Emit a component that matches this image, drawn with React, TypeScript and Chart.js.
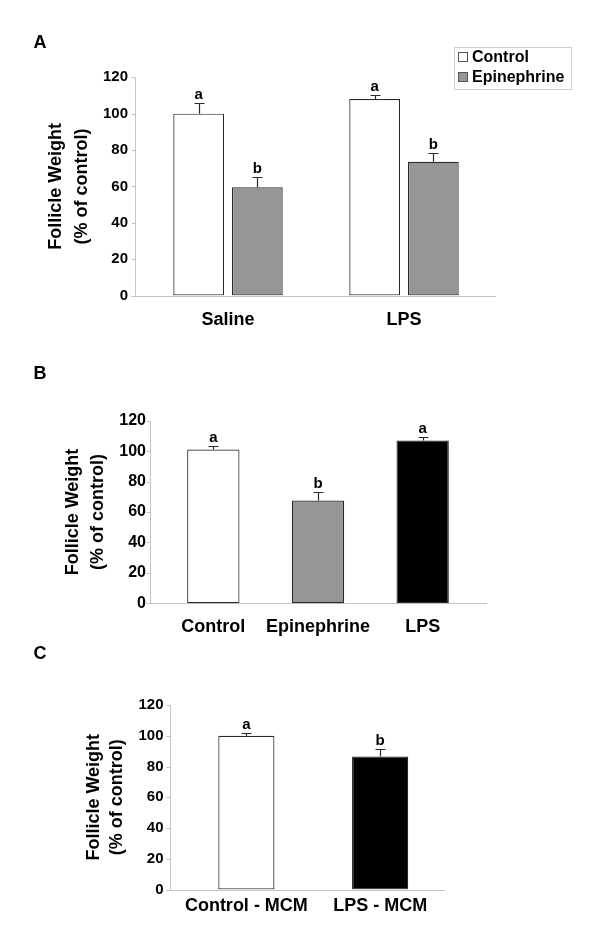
import React, { useEffect, useRef } from "react";
import { Chart, registerables } from "chart.js";

Chart.register(...registerables);

const FONT = "'Liberation Sans', Arial, Helvetica, sans-serif";

// ---------- Data ----------
const yAxisTitle = ["Follicle Weight", "(% of control)"];
const Y_MIN = 0;
const Y_MAX = 120;
const Y_STEP = 20;

// Panel A
const aCategories = ["Saline", "LPS"];
const aSeriesNames = ["Control", "Epinephrine"];
const aControl = [100, 108];
const aControlErr = [6, 2];
const aControlLetters = ["a", "a"];
const aEpinephrine = [59.5, 73.5];
const aEpinephrineErr = [5.5, 5];
const aEpinephrineLetters = ["b", "b"];

// Panel B
const bCategories = ["Control", "Epinephrine", "LPS"];
const bValues = [101, 67.5, 107];
const bErrors = [2.5, 5.5, 2.5];
const bLetters = ["a", "b", "a"];

// Panel C
const cCategories = ["Control - MCM", "LPS - MCM"];
const cValues = [100, 86.5];
const cErrors = [1.5, 5];
const cLetters = ["a", "b"];

// ---------- Colours ----------
const WHITE = "#ffffff";
const GRAY = "#969696";
const BLACK = "#000000";
const EDGE = "#2a2a2a";
const AXIS = "#c4c4c4";

type Panel = {
  key: string;
  top: number;
  height: number;
  letter: string;
  letterPos: [number, number];
  area: { left: number; right: number; top: number; bottom: number };
  axisX: number;
  axisRight: number;
  titleX: [number, number];
  tickFont: number;
  tickPad: number;
  catPad: number;
  categories: string[];
  datasets: any[];
  barPct: number;
  catPct: number;
  legend?: { box: [number, number, number, number]; items: { label: string; color: string; y: number }[]; markX: number; textX: number };
};

const decorPlugin = {
  id: "decor",
  beforeDatasetsDraw(chart: any, _args: any, o: any) {
    const ctx = chart.ctx;
    const ys = chart.scales.y;
    const yTop = ys.getPixelForValue(Y_MAX);
    const yBot = ys.getPixelForValue(Y_MIN);
    ctx.save();
    ctx.strokeStyle = AXIS;
    ctx.lineWidth = 1;
    const ax = Math.round(o.axisX) + 0.5;
    ctx.beginPath();
    ctx.moveTo(ax, yTop);
    ctx.lineTo(ax, yBot);
    ctx.stroke();
    ys.ticks.forEach((t: any) => {
      const p = Math.round(ys.getPixelForValue(t.value)) + 0.5;
      ctx.beginPath();
      ctx.moveTo(ax - 4, p);
      ctx.lineTo(ax, p);
      ctx.stroke();
    });
    const by = Math.round(yBot) + 0.5;
    ctx.beginPath();
    ctx.moveTo(ax - 4, by);
    ctx.lineTo(o.axisRight, by);
    ctx.stroke();
    ctx.restore();
  },
  afterDatasetsDraw(chart: any, _args: any, o: any) {
    const ctx = chart.ctx;
    const ys = chart.scales.y;
    const off = o.top;
    ctx.save();
    // error bars + letters
    chart.data.datasets.forEach((ds: any, di: number) => {
      const meta = chart.getDatasetMeta(di);
      meta.data.forEach((el: any, j: number) => {
        const v = ds.data[j];
        const e = ds.errors[j];
        const x = Math.round(el.x) + 0.5;
        const y1 = ys.getPixelForValue(v);
        const y2 = Math.round(ys.getPixelForValue(v + e)) + 0.5;
        ctx.strokeStyle = EDGE;
        ctx.lineWidth = 1.2;
        ctx.beginPath();
        ctx.moveTo(x, y1);
        ctx.lineTo(x, y2);
        ctx.moveTo(x - 5, y2);
        ctx.lineTo(x + 5, y2);
        ctx.stroke();
        ctx.fillStyle = "#000";
        ctx.font = `bold 15px ${FONT}`;
        ctx.textAlign = "center";
        ctx.textBaseline = "alphabetic";
        ctx.fillText(ds.letters[j], el.x, y2 - 5);
      });
    });
    // y-axis title (two rotated lines)
    const cy = (chart.chartArea.top + chart.chartArea.bottom) / 2;
    ctx.fillStyle = "#000";
    ctx.font = `bold 18px ${FONT}`;
    ctx.textAlign = "center";
    ctx.textBaseline = "middle";
    yAxisTitle.forEach((line: string, i: number) => {
      ctx.save();
      ctx.translate(o.titleX[i], cy);
      ctx.rotate(-Math.PI / 2);
      ctx.fillText(line, 0, 0);
      ctx.restore();
    });
    // panel letter
    ctx.font = `bold 18px ${FONT}`;
    ctx.fillText(o.letter, o.letterPos[0], o.letterPos[1] - off);
    // legend
    if (o.legend) {
      const [lx, ly, lw, lh] = o.legend.box;
      ctx.strokeStyle = "#cfcfcf";
      ctx.lineWidth = 1;
      ctx.strokeRect(Math.round(lx) + 0.5, Math.round(ly - off) + 0.5, lw, lh);
      ctx.font = `bold 16px ${FONT}`;
      ctx.textAlign = "left";
      ctx.textBaseline = "middle";
      o.legend.items.forEach((it: any) => {
        const yy = it.y - off;
        ctx.fillStyle = it.color;
        ctx.fillRect(o.legend.markX, Math.round(yy - 5), 10, 10);
        ctx.strokeStyle = "#555";
        ctx.strokeRect(o.legend.markX + 0.5, Math.round(yy - 5) + 0.5, 9, 9);
        ctx.fillStyle = "#000";
        ctx.fillText(it.label, o.legend.textX, yy + 1);
      });
    }
    ctx.restore();
  },
};

function PanelChart({ p }: { p: Panel }) {
  const ref = useRef<HTMLCanvasElement | null>(null);
  useEffect(() => {
    if (!ref.current) return;
    const chart = new Chart(ref.current, {
      type: "bar",
      data: { labels: p.categories, datasets: p.datasets },
      plugins: [decorPlugin as any],
      options: {
        animation: false,
        responsive: false,
        maintainAspectRatio: false,
        datasets: {
          bar: {
            barPercentage: p.barPct,
            categoryPercentage: p.catPct,
            borderWidth: 1.2,
            borderColor: EDGE,
            borderSkipped: false,
          },
        },
        layout: {
          padding: { left: 0, right: 600 - p.area.right, top: p.area.top - p.top, bottom: 0 },
        },
        plugins: {
          legend: { display: false },
          tooltip: { enabled: false },
          decor: {
            top: p.top,
            axisX: p.axisX,
            axisRight: p.axisRight,
            titleX: p.titleX,
            letter: p.letter,
            letterPos: p.letterPos,
            legend: p.legend,
          },
        } as any,
        scales: {
          x: {
            type: "category",
            offset: true,
            grid: { display: false, drawTicks: false },
            border: { display: false },
            ticks: {
              color: "#000",
              font: { family: FONT, size: 18, weight: "bold" },
              padding: p.catPad,
              maxRotation: 0,
              autoSkip: false,
            },
            afterFit: (s: any) => {
              s.height = p.top + p.height - p.area.bottom;
            },
          },
          y: {
            min: Y_MIN,
            max: Y_MAX,
            ticks: {
              stepSize: Y_STEP,
              color: "#000",
              font: { family: FONT, size: p.tickFont, weight: "bold" },
              padding: p.tickPad,
            },
            grid: { display: false, drawTicks: false },
            border: { display: false },
            afterFit: (s: any) => {
              s.width = p.area.left;
            },
          },
        },
      } as any,
    });
    return () => chart.destroy();
  }, [p]);
  return (
    <canvas
      ref={ref}
      width={600}
      height={p.height}
      style={{ position: "absolute", left: 0, top: p.top, width: 600, height: p.height, display: "block" }}
    />
  );
}

const panels: Panel[] = [
  {
    key: "A",
    top: 0,
    height: 340,
    letter: "A",
    letterPos: [40, 43],
    area: { left: 140, right: 492, top: 77.3, bottom: 295.5 },
    axisX: 135,
    axisRight: 496,
    titleX: [56, 82],
    tickFont: 15,
    tickPad: 12,
    catPad: 14,
    categories: aCategories,
    barPct: 0.864,
    catPct: 0.667,
    datasets: [
      { label: aSeriesNames[0], data: aControl, errors: aControlErr, letters: aControlLetters, backgroundColor: WHITE },
      { label: aSeriesNames[1], data: aEpinephrine, errors: aEpinephrineErr, letters: aEpinephrineLetters, backgroundColor: GRAY },
    ],
    legend: {
      box: [454, 46.5, 117, 42],
      markX: 458,
      textX: 472,
      items: [
        { label: aSeriesNames[0], color: WHITE, y: 56.5 },
        { label: aSeriesNames[1], color: GRAY, y: 77 },
      ],
    },
  },
  {
    key: "B",
    top: 340,
    height: 300,
    letter: "B",
    letterPos: [40, 374],
    area: { left: 161, right: 475, top: 420.7, bottom: 603.3 },
    axisX: 150,
    axisRight: 487,
    titleX: [73, 98],
    tickFont: 16,
    tickPad: 15,
    catPad: 12.5,
    categories: bCategories,
    barPct: 0.5,
    catPct: 1,
    datasets: [
      { label: "Follicle Weight", data: bValues, errors: bErrors, letters: bLetters, backgroundColor: [WHITE, GRAY, BLACK] },
    ],
  },
  {
    key: "C",
    top: 640,
    height: 305,
    letter: "C",
    letterPos: [40, 654],
    area: { left: 179.5, right: 447, top: 705, bottom: 889.5 },
    axisX: 170,
    axisRight: 445,
    titleX: [94, 117],
    tickFont: 15,
    tickPad: 16,
    catPad: 6,
    categories: cCategories,
    barPct: 0.42,
    catPct: 1,
    datasets: [
      { label: "Follicle Weight", data: cValues, errors: cErrors, letters: cLetters, backgroundColor: [WHITE, BLACK] },
    ],
  },
];

export default function App() {
  return (
    <div style={{ position: "absolute", left: 0, top: 0, width: 600, height: 945, background: "#fff", overflow: "hidden" }}>
      {panels.map((p) => (
        <PanelChart key={p.key} p={p} />
      ))}
    </div>
  );
}
